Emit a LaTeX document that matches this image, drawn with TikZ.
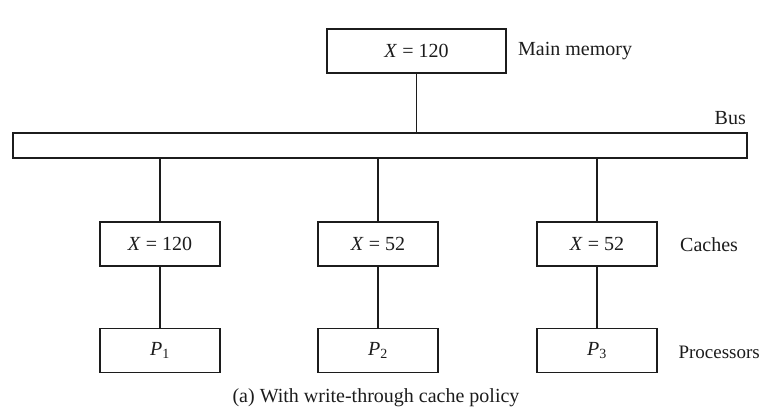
\documentclass[tikz,border=0pt]{standalone}
\usepackage{fontspec}
\setmainfont{Liberation Serif}
\usepackage{xcolor}
\usetikzlibrary{positioning, calc}
\definecolor{encre}{HTML}{1C1C1C}
\tikzset{
  boite/.style={rectangle, draw=encre, line width=1.6pt, fill=white, text=encre,
    font=\fontsize{20}{22}\selectfont, minimum width=120pt, minimum height=44pt,
    inner sep=0pt},
  barre/.style={rectangle, draw=encre, line width=1.6pt, fill=white,
    minimum width=734pt, minimum height=25pt, inner sep=0pt},
  lien/.style={line width=1.6pt, color=encre},
  etiquette/.style={font=\fontsize{20}{22}\selectfont, text=encre, inner sep=0pt}
}

\begin{document}
\begin{tikzpicture}[x=1pt, y=-1pt]
    \useasboundingbox (0,0) rectangle (762,407);

    % Memoire principale et bus
    \node[boite, minimum width=179pt] (mem) at (416.5,51) {\textit{X} = 120};
    \node[etiquette, anchor=west] (memlab) at (518,51) {Main memory};
    \node[barre] (bus) at (380,145.5) {};
    \node[etiquette, anchor=east] (buslab) at (746,118) {Bus};
    \draw[lien] (mem) -- (mem |- bus.north);

    % Caches et processeurs
    \foreach \x/\val/\i in {160/120/1, 378/52/2, 597/52/3} {
      \node[boite] (c\i) at (\x,244) {\textit{X} = \val};
      \node[boite] (p\i) at (\x,350.5) {\textit{P}\textsubscript{\i}};
      \draw[lien] (bus.south -| c\i) -- (c\i);
      \draw[lien] (c\i) -- (p\i);
    }
    \node[etiquette, anchor=west] (cachelab) at (680,245) {Caches};
    \node[etiquette, anchor=east, font=\fontsize{19}{21}\selectfont]
      (proclab) at (760,352) {Processors};

    \node[etiquette] (legende) at (376,398) {(a) With write-through cache policy};
  \end{tikzpicture}
\end{document}
